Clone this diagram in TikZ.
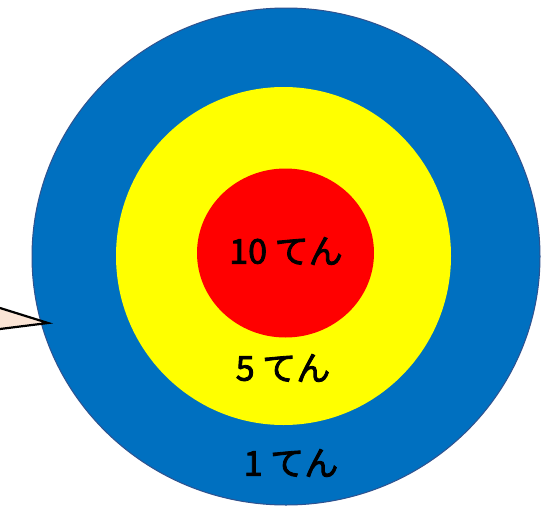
\documentclass[tikz,border=0pt]{standalone}
\usepackage{fontspec}
\newfontfamily\jpfont{Noto Sans CJK JP}[FakeBold=2.5]
\definecolor{ringblue}{HTML}{0070C0}
\definecolor{ringedge}{HTML}{2F528F}
\definecolor{ringyellow}{HTML}{FFFF00}
\definecolor{ringred}{HTML}{FF0000}
\definecolor{peach}{HTML}{FBE5D6}
\begin{document}
\begin{tikzpicture}[x=1pt,y=-1pt,
  score/.style={font=\jpfont\fontsize{34}{38}\selectfont, text=black, inner sep=0pt}]
\useasboundingbox (0,0) rectangle (541,506);
\clip (0,0) rectangle (541,506);
\fill[white] (0,0) rectangle (541,506);
% rings
\draw[fill=ringblue, draw=ringedge, line width=1pt] (286,256.5) ellipse [x radius=254, y radius=248.5];
\fill[ringyellow] (283.5,256) ellipse [x radius=167.5, y radius=169];
\fill[ringred] (285.5,253) ellipse [x radius=88.5, y radius=84.5];
% pointer
\coordinate (tip) at (48,323);
\draw[fill=peach, draw=black, line width=2.2pt, line join=miter] (-20,301.75) -- (tip) -- (-20,331.5) -- cycle;
% labels
\node[score] (ten) at (286,251) {10 てん};
\node[score] (five) at (283,368) {5 てん};
\node[score] (one) at (291,463) {1 てん};
\end{tikzpicture}
\end{document}
